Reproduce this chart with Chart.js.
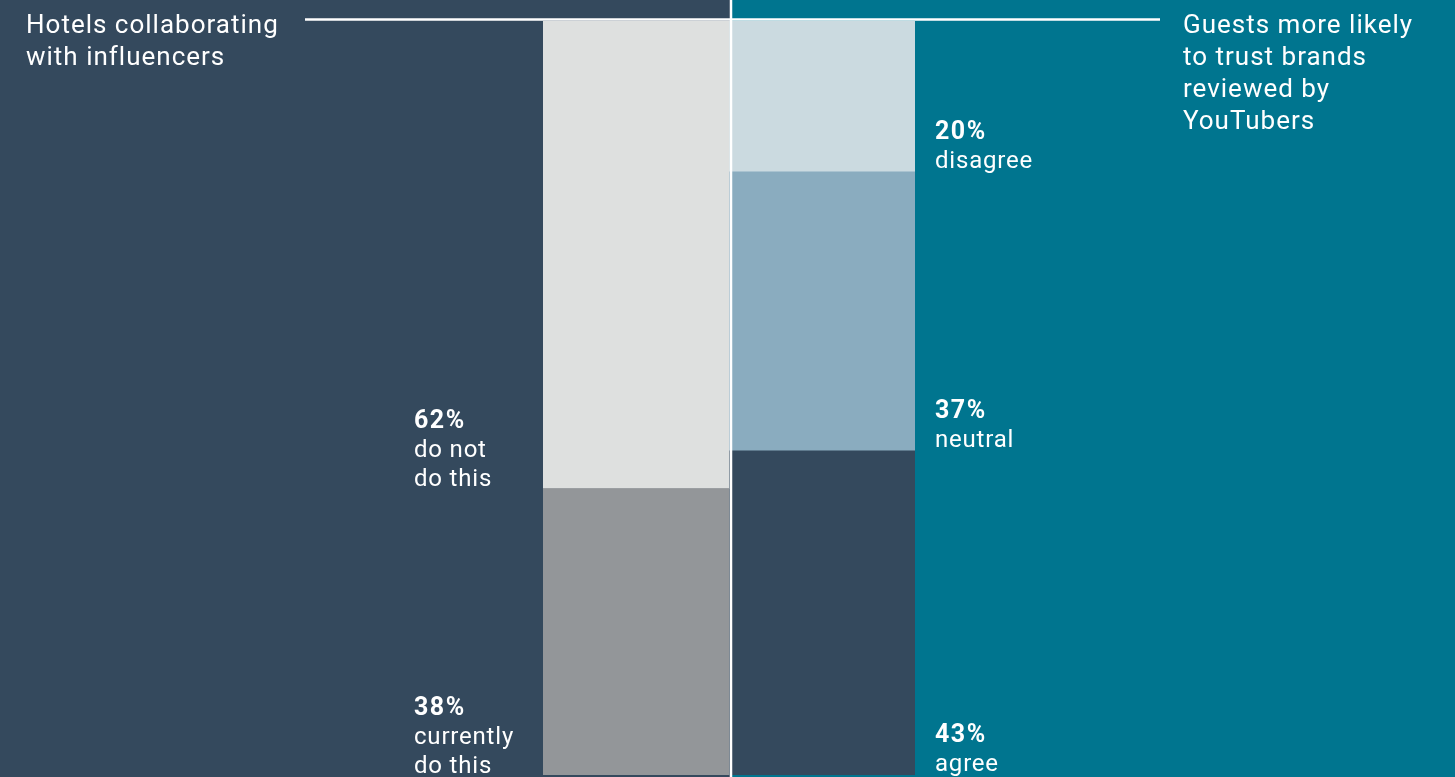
<!DOCTYPE html>
<html>
<head>
<meta charset="utf-8">
<script src="https://cdn.jsdelivr.net/npm/chart.js@4/dist/chart.umd.min.js"></script>
<style>
  html, body { margin: 0; padding: 0; background: #34495d; overflow: hidden; }
  canvas { display: block; }
</style>
</head>
<body>
<canvas id="chart" width="1455" height="777"></canvas>
<script>
// data
const groups = ['hotels', 'guests'];
const hotelTitle = ['Hotels collaborating', 'with influencers'];
const guestTitle = ['Guests more likely', 'to trust brands', 'reviewed by', 'YouTubers'];

const hotelValues = [38, 62];
const hotelLabels = [['currently', 'do this'], ['do not', 'do this']];
const guestValues = [43, 37, 20];
const guestLabels = [['agree'], ['neutral'], ['disagree']];

const NAVY = '#34495d';
const TEAL = '#00758f';
const FONT = 'Roboto, "Liberation Sans", sans-serif';

const hotelColors = ['#939699', '#dee0df'];
const guestColors = ['#34495d', '#8aacbf', '#cbdae0'];

const datasets = [];
hotelValues.forEach((v, i) => {
  datasets.push({ data: [v, null], backgroundColor: hotelColors[i], lines: hotelLabels[i], side: 'left' });
});
guestValues.forEach((v, i) => {
  datasets.push({ data: [null, v], backgroundColor: guestColors[i], lines: guestLabels[i], side: 'right' });
});

// ─────────────────────────────
// background halves + frame lines
// ─────────────────────────────
const backdrop = {
  id: 'backdrop',
  beforeDraw(chart) {
    const { ctx, width, height } = chart;
    const x = chart.scales.x;
    const split = (x.getPixelForTick(0) + x.getPixelForTick(1)) / 2 + 2;
    ctx.save();
    ctx.fillStyle = NAVY;
    ctx.fillRect(0, 0, split, height);
    ctx.fillStyle = TEAL;
    ctx.fillRect(split, 0, width - split, height);
    ctx.restore();
  },
  afterDatasetsDraw(chart) {
    const { ctx, height } = chart;
    const x = chart.scales.x;
    const split = (x.getPixelForTick(0) + x.getPixelForTick(1)) / 2 + 2;
    ctx.save();
    ctx.strokeStyle = '#ffffff';
    ctx.lineWidth = 2.5;
    ctx.beginPath();
    ctx.moveTo(split, 0);
    ctx.lineTo(split, height);
    ctx.stroke();
    ctx.beginPath();
    ctx.moveTo(305, 19.5);
    ctx.lineTo(1160, 19.5);
    ctx.stroke();

    // titles
    ctx.fillStyle = '#ffffff';
    ctx.textBaseline = 'alphabetic';
    ctx.textAlign = 'left';
    ctx.font = '400 26px ' + FONT;
    ctx.letterSpacing = '1px';
    hotelTitle.forEach((t, i) => ctx.fillText(t, 26, 33 + i * 32));
    guestTitle.forEach((t, i) => ctx.fillText(t, 1183, 33 + i * 32));

    // segment labels
    chart.data.datasets.forEach((ds, di) => {
      const meta = chart.getDatasetMeta(di);
      const idx = ds.side === 'left' ? 0 : 1;
      const bar = meta.data[idx];
      const value = ds.data[idx];
      const half = bar.width / 2;
      const lx = ds.side === 'left' ? bar.x - half - 129 : bar.x + half + 20;
      const bottom = Math.min(bar.base, chart.chartArea.bottom) - (ds.side === 'left' ? 2 : 4);
      const lines = [value + '%'].concat(ds.lines);
      const n = lines.length;
      lines.forEach((t, i) => {
        if (i === 0) {
          ctx.font = '700 25px ' + FONT;
          ctx.letterSpacing = '1.5px';
        } else {
          ctx.font = '400 24px ' + FONT;
          ctx.letterSpacing = '0.8px';
        }
        ctx.fillText(t, lx, bottom - (n - 1 - i) * 29);
      });
    });
    ctx.restore();
  }
};

new Chart(document.getElementById('chart'), {
  type: 'bar',
  data: { labels: groups, datasets: datasets },
  options: {
    responsive: false,
    animation: false,
    devicePixelRatio: 1,
    layout: { padding: { left: 543, right: 540, top: 21, bottom: 2 } },
    datasets: { bar: { barPercentage: 1, categoryPercentage: 1, borderWidth: 0, skipNull: true } },
    scales: {
      x: { stacked: true, display: false, grid: { display: false } },
      y: { stacked: true, display: false, min: 0, max: 100, grid: { display: false } }
    },
    plugins: { legend: { display: false }, tooltip: { enabled: false } }
  },
  plugins: [backdrop]
});
</script>
</body>
</html>
